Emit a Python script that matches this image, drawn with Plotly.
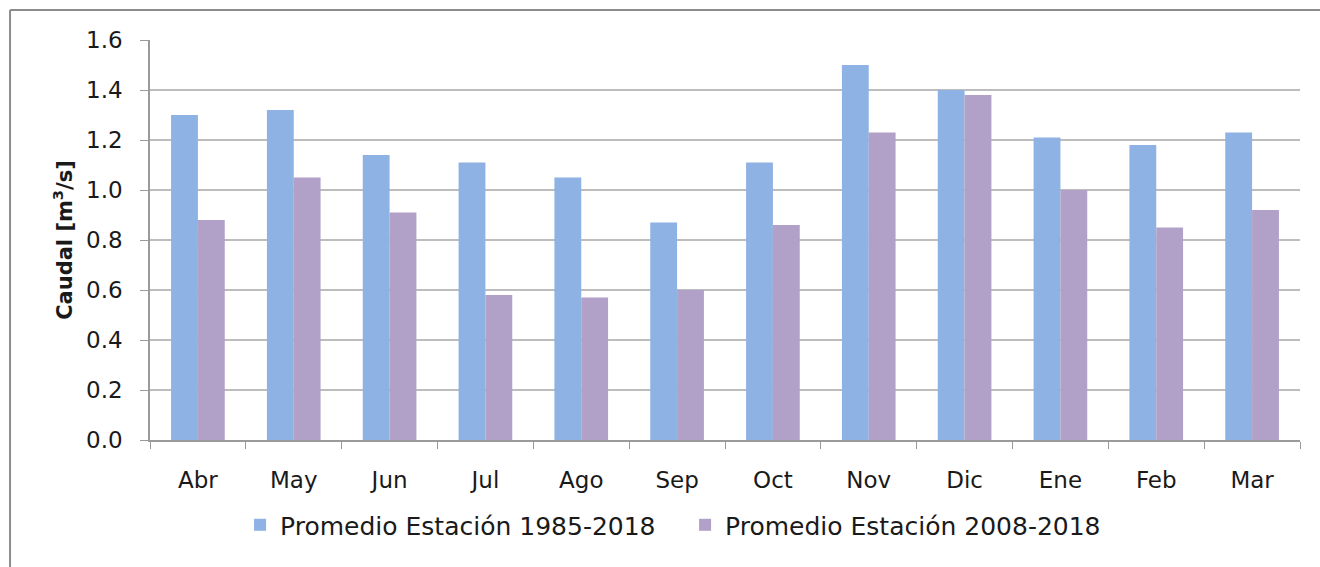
import plotly.graph_objects as go

months = ["Abr", "May", "Jun", "Jul", "Ago", "Sep", "Oct", "Nov", "Dic", "Ene", "Feb", "Mar"]
prom_1985_2018 = [1.30, 1.32, 1.14, 1.11, 1.05, 0.87, 1.11, 1.50, 1.40, 1.21, 1.18, 1.23]
prom_2008_2018 = [0.88, 1.05, 0.91, 0.58, 0.57, 0.60, 0.86, 1.23, 1.38, 1.00, 0.85, 0.92]
yticks = [0.0, 0.2, 0.4, 0.6, 0.8, 1.0, 1.2, 1.4, 1.6]

FONT = "DejaVu Sans"
fig = go.Figure()
fig.add_trace(go.Bar(x=months, y=prom_1985_2018, name="Promedio Estación 1985-2018",
                     marker=dict(color="#8DB2E3", line=dict(width=0))))
fig.add_trace(go.Bar(x=months, y=prom_2008_2018, name="Promedio Estación 2008-2018",
                     marker=dict(color="#B1A0C7", line=dict(width=0))))

fig.update_layout(
    width=1320, height=567,
    margin=dict(l=150, r=20, t=40, b=127, autoexpand=False),
    paper_bgcolor="white", plot_bgcolor="white",
    barmode="group", bargap=0.44, bargroupgap=0,
    font=dict(family=FONT, size=22, color="#1a1a1a"),
    legend=dict(orientation="h", xref="container", x=0.519, xanchor="center",
                yref="container", y=0.074, yanchor="middle",
                font=dict(size=25), itemwidth=30, entrywidth=400,
                traceorder="normal"),
    showlegend=True,
)
fig.update_xaxes(
    showline=True, linecolor="#9a9a9a", linewidth=1.5,
    ticks="outside", tickson="boundaries", ticklen=7, tickcolor="#9a9a9a",
    ticklabelstandoff=19, tickfont=dict(size=23), showgrid=False,
)
fig.update_yaxes(
    range=[0, 1.6], tickvals=yticks, ticktext=[f"{v:.1f}" for v in yticks],
    showline=True, linecolor="#9a9a9a", linewidth=1.5,
    ticks="outside", ticklen=8, tickcolor="#9a9a9a",
    showgrid=True, gridcolor="#bdbdbd", gridwidth=1.5,
    tickfont=dict(size=23), ticklabelstandoff=13,
    title=dict(text="<b>Caudal [m<sup>3</sup>/s]</b>", font=dict(size=21), standoff=8),
    zeroline=False,
)

# outer frame (left and top edges)
fig.add_shape(type="line", xref="paper", yref="paper", x0=-0.1217, x1=-0.1217, y0=1.075, y1=-0.4,
              line=dict(color="#8c8c8c", width=2))
fig.add_shape(type="line", xref="paper", yref="paper", x0=-0.1217, x1=1.05, y0=1.075, y1=1.075,
              line=dict(color="#8c8c8c", width=2))

fig.write_html("out.html")
